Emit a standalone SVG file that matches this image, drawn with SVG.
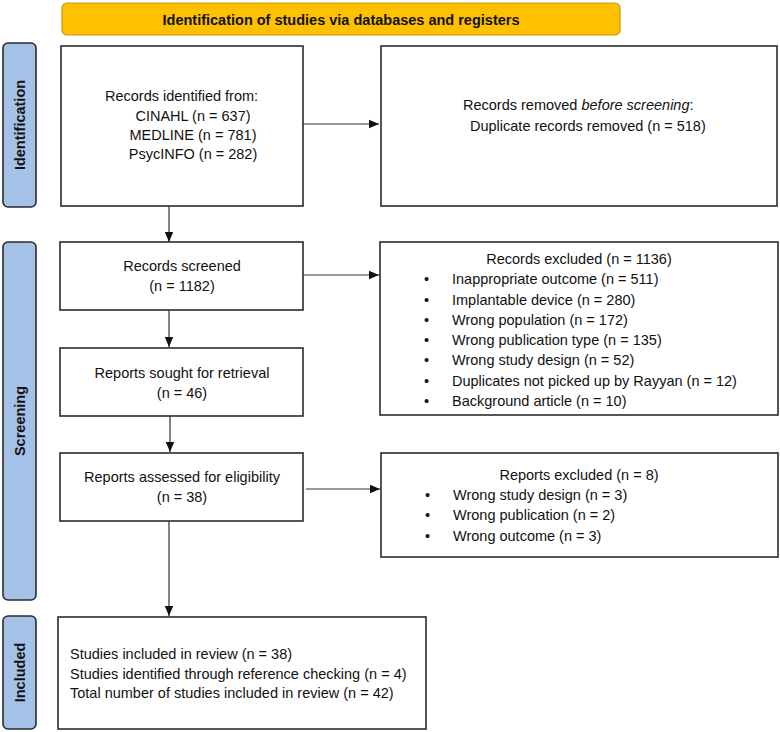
<svg xmlns="http://www.w3.org/2000/svg" width="780" height="732" viewBox="0 0 780 732">
<style>
.box{fill:#fff;stroke:#2b2b2b;stroke-width:1.6}
.side{fill:#a4c2e8;stroke:#2b2b2b;stroke-width:1.6}
.banner{fill:#ffc000;stroke:#c49a1a;stroke-width:1.2}
.t{font-family:"Liberation Sans",Arial,sans-serif;font-size:14.5px;fill:#111}
.c{text-anchor:middle}
.b{font-weight:bold}
.conn line{stroke:#333;stroke-width:1.2;fill:none}
</style>
<defs>
<marker id="ah" markerUnits="userSpaceOnUse" markerWidth="10" markerHeight="10" viewBox="0 0 10 10" refX="10" refY="5" orient="auto">
<path d="M0,0.8 L10,5 L0,9.2 Z" fill="#111"/>
</marker>
</defs>

<g id="banner">
<rect class="banner" x="62" y="3" width="558" height="32" rx="5"/>
<text class="t b c" x="341" y="24.5">Identification of studies via databases and registers</text>
</g>

<g id="side-identification">
<rect class="side" x="3" y="43" width="33" height="164" rx="5"/>
<text class="t b c" transform="translate(25,125) rotate(-90)">Identification</text>
</g>
<g id="side-screening">
<rect class="side" x="3" y="242" width="33" height="358" rx="5"/>
<text class="t b c" transform="translate(25,421) rotate(-90)">Screening</text>
</g>
<g id="side-included">
<rect class="side" x="3" y="616" width="33" height="113" rx="5"/>
<text class="t b c" transform="translate(25,672.5) rotate(-90)">Included</text>
</g>

<g id="records-identified">
<rect class="box" x="61" y="46" width="242" height="160"/>
<text class="t" x="105" y="101">Records identified from:</text>
<text class="t c" x="193" y="121">CINAHL (n = 637)</text>
<text class="t c" x="193" y="140">MEDLINE (n = 781)</text>
<text class="t c" x="193" y="159">PsycINFO (n = 282)</text>
</g>

<g id="records-removed">
<rect class="box" x="381" y="46" width="396" height="160"/>
<text class="t" x="463" y="110">Records removed <tspan font-style="italic">before screening</tspan>:</text>
<text class="t" x="470" y="131">Duplicate records removed (n = 518)</text>
</g>

<g id="records-screened">
<rect class="box" x="60" y="242" width="243" height="68"/>
<text class="t c" x="182" y="271">Records screened</text>
<text class="t c" x="182" y="291">(n = 1182)</text>
</g>

<g id="records-excluded">
<rect class="box" x="380" y="242" width="398" height="173"/>
<text class="t c" x="579" y="264">Records excluded (n = 1136)</text>
<g class="t">
<text x="424" y="284">•</text><text x="452" y="284">Inappropriate outcome (n = 511)</text>
<text x="424" y="305">•</text><text x="452" y="305">Implantable device (n = 280)</text>
<text x="424" y="325">•</text><text x="452" y="325">Wrong population (n = 172)</text>
<text x="424" y="345">•</text><text x="452" y="345">Wrong publication type (n = 135)</text>
<text x="424" y="365">•</text><text x="452" y="365">Wrong study design (n = 52)</text>
<text x="424" y="386">•</text><text x="452" y="386">Duplicates not picked up by Rayyan (n = 12)</text>
<text x="424" y="406">•</text><text x="452" y="406">Background article (n = 10)</text>
</g>
</g>

<g id="reports-sought">
<rect class="box" x="60" y="348" width="243" height="68"/>
<text class="t c" x="182" y="378">Reports sought for retrieval</text>
<text class="t c" x="182" y="398">(n = 46)</text>
</g>

<g id="reports-assessed">
<rect class="box" x="60" y="453" width="243" height="68"/>
<text class="t c" x="182" y="482">Reports assessed for eligibility</text>
<text class="t c" x="182" y="502">(n = 38)</text>
</g>

<g id="reports-excluded">
<rect class="box" x="381" y="453" width="397" height="104"/>
<text class="t c" x="579" y="480">Reports excluded (n = 8)</text>
<g class="t">
<text x="425" y="500">•</text><text x="453" y="500">Wrong study design (n = 3)</text>
<text x="425" y="520">•</text><text x="453" y="520">Wrong publication (n = 2)</text>
<text x="425" y="541">•</text><text x="453" y="541">Wrong outcome (n = 3)</text>
</g>
</g>

<g id="studies-included">
<rect class="box" x="58" y="617" width="368" height="112"/>
<text class="t" x="70" y="659">Studies included in review (n = 38)</text>
<text class="t" x="70" y="679">Studies identified through reference checking (n = 4)</text>
<text class="t" x="70" y="698">Total number of studies included in review (n = 42)</text>
</g>

<g id="connectors" class="conn">
<line x1="303" y1="124" x2="379" y2="124" marker-end="url(#ah)"/>
<line x1="169" y1="206" x2="169" y2="242" marker-end="url(#ah)"/>
<line x1="303" y1="275" x2="379" y2="275" marker-end="url(#ah)"/>
<line x1="169" y1="310" x2="169" y2="347" marker-end="url(#ah)"/>
<line x1="170" y1="416" x2="170" y2="452" marker-end="url(#ah)"/>
<line x1="306" y1="489" x2="380" y2="489" marker-end="url(#ah)"/>
<line x1="169" y1="521" x2="169" y2="616" marker-end="url(#ah)"/>
</g>
</svg>
